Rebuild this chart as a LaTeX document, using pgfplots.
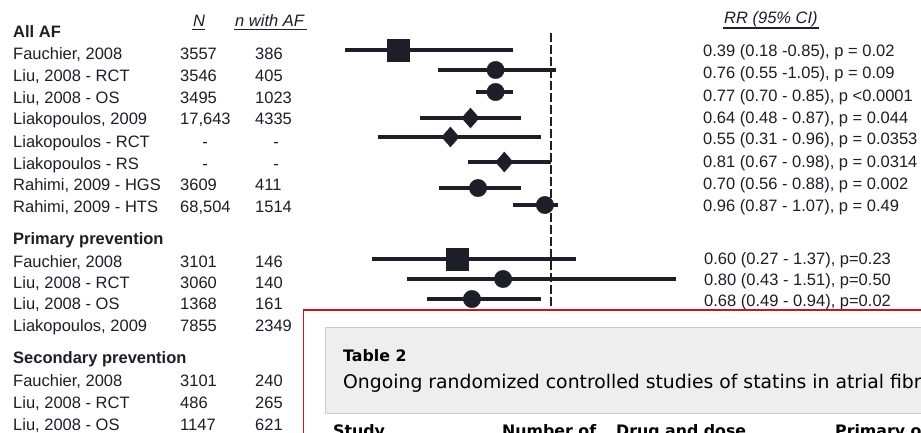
\documentclass[border=0pt]{standalone}
\usepackage{pgfplots}
\usepackage{pgfplotstable}
\pgfplotsset{compat=1.18}
\usepackage{fontspec}
\setmainfont{Liberation Sans}
\newfontfamily\verd{DejaVu Sans}
\definecolor{txt}{HTML}{1E1E28}
\definecolor{boxred}{HTML}{C8161D}
\definecolor{panel}{HTML}{EEEEEE}
\definecolor{panelline}{HTML}{CCCCCC}

% rr = point estimate, lo/hi = 95% CI, y = row position
\pgfplotstableread{
rr    lo    hi    y
0.39  0.18  0.85  50
0.626 0.287 1.10  259
}\sqdata
\pgfplotstableread{
rr    lo    hi    y
0.78  0.55  1.02  70
0.78  0.70  0.85  92
0.71  0.555 0.88  188
0.977 0.85  1.03  205
0.81  0.427 1.50  279
0.686 0.507 0.96  299
}\circdata
\pgfplotstableread{
rr    lo    hi    y
0.68  0.48  0.88  118
0.60  0.31  0.96  137
0.815 0.67  1.00  162
}\diadata

\newcommand\ff{\fontsize{16.5}{18}\selectfont}
\newcommand\T[3]{\node[anchor=base west, inner sep=0pt, text=txt, font=\ff] at (#1,#2) {#3};}
\newcommand\TB[3]{\node[anchor=base west, inner sep=0pt, text=txt, font=\ff\bfseries] at (#1,#2) {#3};}
\newcommand\TC[3]{\node[anchor=base, inner sep=0pt, text=txt, font=\ff] at (#1,#2) {#3};}
\newcommand\hb{\verd\bfseries\fontsize{15.8}{18}\selectfont}

\begin{document}
\begin{tikzpicture}[x=1pt,y=-1pt]
\useasboundingbox (0,0) rectangle (921,432);
\clip (0,0) rectangle (921,432);
\fill[white] (0,0) rectangle (921,432);
\begin{axis}[at={(0pt,0pt)}, anchor=north west, width=921pt, height=432pt,
  scale only axis, hide axis, clip=false,
  xmin=-1.19665, xmax=2.47706, ymin=0, ymax=432, y dir=reverse]
\draw[txt, line width=1.6pt, dash pattern=on 9pt off 3pt] (axis cs:1,33) -- (axis cs:1,312);
\addplot[only marks, mark=square*, mark size=11, txt,
  error bars/.cd, x dir=both, x explicit, error mark=none,
  error bar style={line width=3.2pt, txt}]
  table[x=rr, y=y, x error plus expr=\thisrow{hi}-\thisrow{rr}, x error minus expr=\thisrow{rr}-\thisrow{lo}] {\sqdata};
\addplot[only marks, mark=*, mark size=8.7, txt,
  error bars/.cd, x dir=both, x explicit, error mark=none,
  error bar style={line width=3.2pt, txt}]
  table[x=rr, y=y, x error plus expr=\thisrow{hi}-\thisrow{rr}, x error minus expr=\thisrow{rr}-\thisrow{lo}] {\circdata};
\addplot[only marks, mark=diamond*, mark size=10, mark options={xscale=1.15}, txt,
  error bars/.cd, x dir=both, x explicit, error mark=none,
  error bar style={line width=3.2pt, txt}]
  table[x=rr, y=y, x error plus expr=\thisrow{hi}-\thisrow{rr}, x error minus expr=\thisrow{rr}-\thisrow{lo}] {\diadata};
\end{axis}

% headers
\TB{13}{37}{All AF}
\node[anchor=base west, inner sep=0pt, text=txt, font=\ff\itshape] at (193,26) {N};
\draw[txt, line width=1.2pt] (192,29.5) -- (205,29.5);
\node[anchor=base west, inner sep=0pt, text=txt, font=\ff\itshape] at (235,26) {n with AF};
\draw[txt, line width=1.2pt] (234,29.5) -- (307,29.5);
\node[anchor=base west, inner sep=0pt, text=txt, font=\ff\itshape] at (724,23) {RR (95\% CI)};
\draw[txt, line width=2pt] (723,28) -- (819,28);

% All AF rows
\T{13}{59}{Fauchier, 2008}       \T{180}{59}{3557}   \T{255}{59}{386}
\T{13}{81}{Liu, 2008 - RCT}      \T{180}{81}{3546}   \T{255}{81}{405}
\T{13}{103}{Liu, 2008 - OS}      \T{180}{103}{3495}  \T{255}{103}{1023}
\T{13}{124}{Liakopoulos, 2009}   \T{180}{124}{17,643}\T{255}{124}{4335}
\T{13}{147}{Liakopoulos - RCT}   \TC{205}{147}{-}    \TC{276}{147}{-}
\T{13}{169}{Liakopoulos - RS}    \TC{205}{169}{-}    \TC{276}{169}{-}
\T{13}{190}{Rahimi, 2009 - HGS}  \T{180}{190}{3609}  \T{255}{190}{411}
\T{13}{212}{Rahimi, 2009 - HTS}  \T{180}{212}{68,504}\T{255}{212}{1514}

\TB{13}{244}{Primary prevention}
\T{13}{267}{Fauchier, 2008}      \T{180}{267}{3101}  \T{255}{267}{146}
\T{13}{288}{Liu, 2008 - RCT}     \T{180}{288}{3060}  \T{255}{288}{140}
\T{13}{309}{Liu, 2008 - OS}      \T{180}{309}{1368}  \T{255}{309}{161}
\T{13}{331}{Liakopoulos, 2009}   \T{180}{331}{7855}  \T{255}{331}{2349}

\TB{13}{363}{Secondary prevention}
\T{13}{386}{Fauchier, 2008}      \T{180}{386}{3101}  \T{255}{386}{240}
\T{13}{408}{Liu, 2008 - RCT}     \T{180}{408}{486}   \T{255}{408}{265}
\T{13}{430}{Liu, 2008 - OS}      \T{180}{430}{1147}  \T{255}{430}{621}

% RR texts
\T{703}{56}{0.39 (0.18 -0.85), p = 0.02}
\T{703}{78}{0.76 (0.55 -1.05), p = 0.09}
\T{703}{101}{0.77 (0.70 - 0.85), p <0.0001}
\T{703}{123}{0.64 (0.48 - 0.87), p = 0.044}
\T{703}{144}{0.55 (0.31 - 0.96), p = 0.0353}
\T{703}{167}{0.81 (0.67 - 0.98), p = 0.0314}
\T{703}{189}{0.70 (0.56 - 0.88), p = 0.002}
\T{703}{211}{0.96 (0.87 - 1.07), p = 0.49}
\T{704}{264}{0.60 (0.27 - 1.37), p=0.23}
\T{704}{285}{0.80 (0.43 - 1.51), p=0.50}
\T{704}{306}{0.68 (0.49 - 0.94), p=0.02}

% overlapping table box
\draw[boxred, line width=1.3pt, fill=white] (303.5,310) rectangle (960,460);
\draw[panelline, line width=1pt, fill=panel] (325,327.5) rectangle (960,413);
\node[anchor=base west, inner sep=0pt, font=\hb] at (343,361) {Table 2};
\node[anchor=base west, inner sep=0pt, font=\verd\fontsize{18.8}{20}\selectfont] at (343,388) {Ongoing randomized controlled studies of statins in atrial fibrillation};
\node[anchor=base west, inner sep=0pt, font=\hb] at (333,436) {Study};
\node[anchor=base west, inner sep=0pt, font=\hb] at (502,436) {Number of};
\node[anchor=base west, inner sep=0pt, font=\hb] at (616,436) {Drug and dose};
\node[anchor=base west, inner sep=0pt, font=\hb] at (835,436) {Primary outcome};
\end{tikzpicture}
\end{document}
